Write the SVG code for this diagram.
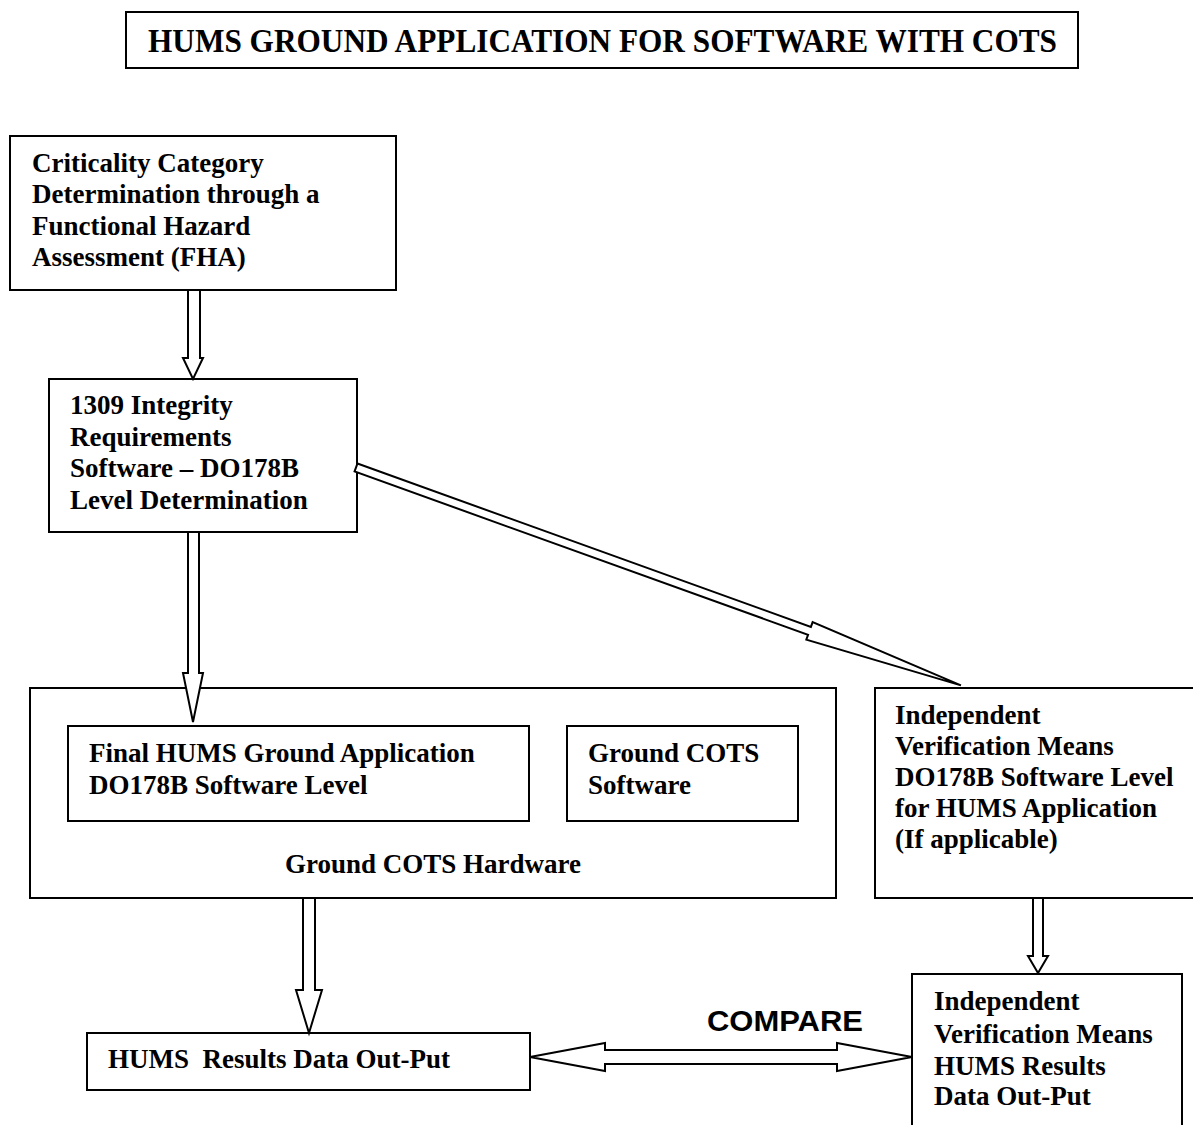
<svg xmlns="http://www.w3.org/2000/svg" width="1193" height="1125" viewBox="0 0 1193 1125">
<style>
.box{fill:#fff;stroke:#000;stroke-width:2}
.arr{fill:#fff;stroke:#000;stroke-width:2;stroke-linejoin:miter}
.t{font-family:"Liberation Serif","Times New Roman",serif;font-weight:bold;font-size:27px;fill:#000}
.title{font-family:"Liberation Serif","Times New Roman",serif;font-weight:bold;font-size:33px;fill:#000}
.cmp{font-family:"Liberation Sans",Arial,sans-serif;font-weight:bold;font-size:29px;fill:#000}
</style>
<rect width="1193" height="1125" fill="#fff"/>
<g id="title">
<rect class="box" x="126" y="12" width="952" height="56" stroke-width="2.5"/>
<text class="title" x="148" y="52" textLength="909" lengthAdjust="spacingAndGlyphs">HUMS GROUND APPLICATION FOR SOFTWARE WITH COTS</text>
</g>
<g id="fha">
<rect class="box" x="10" y="136" width="386" height="154"/>
<text class="t" x="32" y="172">Criticality Category</text>
<text class="t" x="32" y="203">Determination through a</text>
<text class="t" x="32" y="235">Functional Hazard</text>
<text class="t" x="32" y="266">Assessment (FHA)</text>
</g>
<g id="integrity">
<rect class="box" x="49" y="379" width="308" height="153"/>
<text class="t" x="70" y="414">1309 Integrity</text>
<text class="t" x="70" y="446">Requirements</text>
<text class="t" x="70" y="477">Software – DO178B</text>
<text class="t" x="70" y="509">Level Determination</text>
</g>
<g id="hardware">
<rect class="box" x="30" y="688" width="806" height="210"/>
<text class="t" x="433" y="873" text-anchor="middle">Ground COTS Hardware</text>
</g>
<g id="final-app">
<rect class="box" x="68" y="726" width="461" height="95"/>
<text class="t" x="89" y="762">Final HUMS Ground Application</text>
<text class="t" x="89" y="794">DO178B Software Level</text>
</g>
<g id="cots-sw">
<rect class="box" x="567" y="726" width="231" height="95"/>
<text class="t" x="588" y="762">Ground COTS</text>
<text class="t" x="588" y="794">Software</text>
</g>
<g id="ivm">
<rect class="box" x="875" y="688" width="340" height="210"/>
<text class="t" x="895" y="724">Independent</text>
<text class="t" x="895" y="755">Verification Means</text>
<text class="t" x="895" y="786">DO178B Software Level</text>
<text class="t" x="895" y="817">for HUMS Application</text>
<text class="t" x="895" y="848">(If applicable)</text>
</g>
<g id="results">
<rect class="box" x="87" y="1033" width="443" height="57"/>
<text class="t" x="108" y="1068" xml:space="preserve">HUMS  Results Data Out-Put</text>
</g>
<g id="ivm-results">
<rect class="box" x="912" y="974" width="270" height="170"/>
<text class="t" x="934" y="1010">Independent</text>
<text class="t" x="934" y="1043">Verification Means</text>
<text class="t" x="934" y="1075">HUMS Results</text>
<text class="t" x="934" y="1105">Data Out-Put</text>
</g>
<g id="connectors">
<polygon class="arr" points="188,290 188,358 183,358 193,379 203,358 200,358 200,290"/>
<polygon class="arr" points="188,532 188,673 183,673 193,722 203,673 199,673 199,532"/>
<polygon class="arr" points="0,-4.2 482,-4.2 482,-9.3 643,0 482,9.3 482,4.2 0,4.2" transform="translate(356 467.5) rotate(19.81)"/>
<polygon class="arr" points="303,898 303,990 296,990 309,1033 322,990 315,990 315,898"/>
<polygon class="arr" points="1033,898 1033,956 1028,956 1038,973 1048,956 1043,956 1043,898"/>
<polygon class="arr" points="530,1057 605,1043 605,1050 837,1050 837,1043 912,1057 837,1071 837,1064 605,1064 605,1071"/>
<text class="cmp" x="707" y="1031" textLength="156" lengthAdjust="spacingAndGlyphs">COMPARE</text>
</g>
</svg>
